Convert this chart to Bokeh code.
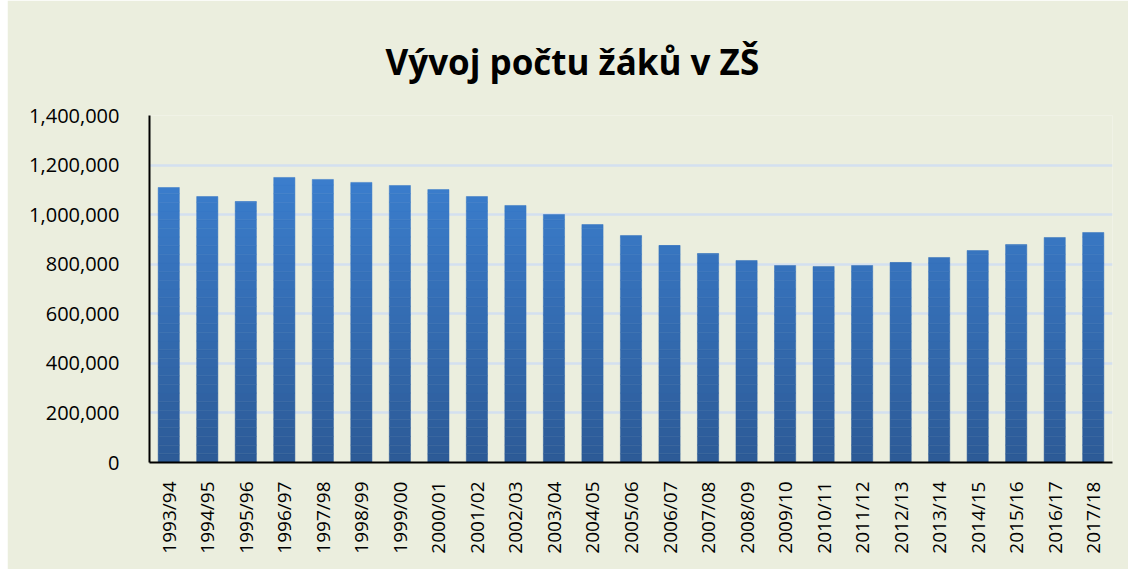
import numpy as np
from bokeh.plotting import figure
from bokeh.models import FactorRange, Range1d, NumeralTickFormatter, FixedTicker
from bokeh.embed import file_html
from bokeh.resources import INLINE

years = ["1993/94", "1994/95", "1995/96", "1996/97", "1997/98", "1998/99", "1999/00",
         "2000/01", "2001/02", "2002/03", "2003/04", "2004/05", "2005/06", "2006/07",
         "2007/08", "2008/09", "2009/10", "2010/11", "2011/12", "2012/13", "2013/14",
         "2014/15", "2015/16", "2016/17", "2017/18"]
pupils = [1109500, 1073000, 1053000, 1150000, 1142000, 1130000, 1117600,
          1101000, 1073000, 1037000, 1000600, 960200, 915900, 875500,
          843200, 815000, 794800, 790800, 794800, 807000, 827100,
          855300, 879600, 907800, 928000]
y_ticks = [0, 200000, 400000, 600000, 800000, 1000000, 1200000, 1400000]
title = "Vývoj počtu žáků v ZŠ"

BG = "#EBEEDE"
W, H = 1121, 569
LEFT, TOP, BOTTOM = 142, 115, 107
p = figure(x_range=FactorRange(*years, range_padding=0), y_range=Range1d(0, 1400000),
           width=W, height=H, output_backend="svg", toolbar_location=None,
           min_border_left=LEFT, min_border_right=16, min_border_top=TOP, min_border_bottom=BOTTOM,
           background_fill_color=BG, border_fill_color=BG)
p.margin = (0, 0, 0, 7)
p.outline_line_color = None

p.title.text = title
p.title.align = "left"
p.title.offset = 236
p.title.standoff = 61
p.title.text_font = "Open Sans"
p.title.text_font_style = "bold"
p.title.text_font_size = "35px"
p.title.text_color = "#000000"

# shadow
p.vbar(x=years, top=pupils, width=0.55, fill_color="#000000", fill_alpha=0.06,
       line_color=None)

# gradient bars built from the data in bands
top_c = np.array([0x3B, 0x7D, 0xCC])
bot_c = np.array([0x2D, 0x5B, 0x97])
vals = np.array(pupils, dtype=float)
n = 40
edges = np.linspace(0, 1400000, n + 1)
for i in range(n):
    b, t = edges[i], edges[i + 1]
    mask = vals > b
    if not mask.any():
        continue
    f = (i + 0.5) / n
    f = min(1.0, f / 0.8)
    c = (bot_c + (top_c - bot_c) * f).astype(int)
    col = "#%02x%02x%02x" % tuple(c)
    xs = [y for y, m in zip(years, mask) if m]
    tops = np.minimum(vals[mask], t)
    p.vbar(x=xs, bottom=b, top=tops, width=0.55, fill_color=col, line_color=col, line_width=0.5)

p.xgrid.grid_line_color = None
p.ygrid.grid_line_color = "#D3E0F0"
p.ygrid.grid_line_width = 2.5
p.yaxis.ticker = FixedTicker(ticks=y_ticks)
p.yaxis.formatter = NumeralTickFormatter(format="0,0")

for ax in (p.xaxis, p.yaxis):
    ax.axis_line_color = "#000000"
    ax.axis_line_width = 2
    ax.major_tick_line_color = None
    ax.minor_tick_line_color = None
    ax.major_label_text_font = "Open Sans"
    ax.major_label_text_color = "#000000"

p.yaxis.major_label_text_font_size = "20px"
p.xaxis.major_label_text_font_size = "19px"
p.yaxis.major_label_standoff = 24
p.xaxis.major_label_standoff = 13
p.xaxis.major_label_orientation = np.pi / 2

open("out.html", "w").write(file_html(p, INLINE))
